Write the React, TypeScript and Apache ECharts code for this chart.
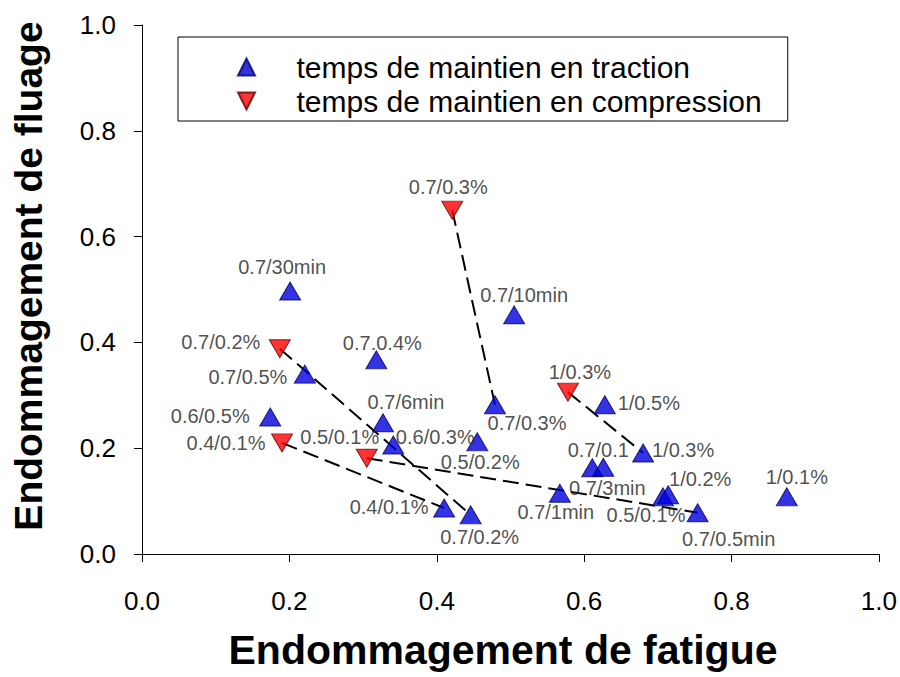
import React, { useEffect, useRef } from "react";
import * as echarts from "echarts";

// Blue: temps de maintien en traction
const tractionX = [0.201, 0.318, 0.221, 0.174, 0.327, 0.341, 0.455, 0.410, 0.446, 0.505, 0.479, 0.628, 0.680, 0.611, 0.626, 0.567, 0.707, 0.714, 0.754, 0.875];
const tractionY = [0.497, 0.367, 0.340, 0.259, 0.248, 0.206, 0.212, 0.087, 0.074, 0.452, 0.282, 0.282, 0.191, 0.163, 0.164, 0.115, 0.108, 0.112, 0.078, 0.108];
const tractionLabels = ["0.7/30min", "0.7.0.4%", "0.7/0.5%", "0.6/0.5%", "0.7/6min", "0.6/0.3%", "0.5/0.2%", "0.4/0.1%", "0.7/0.2%", "0.7/10min", "0.7/0.3%", "1/0.5%", "1/0.3%", "0.7/0.1", "0.7/3min", "0.7/1min", "0.5/0.1%", "1/0.2%", "0.7/0.5min", "1/0.1%"];

// Red: temps de maintien en compression
const compressionX = [0.421, 0.187, 0.190, 0.305, 0.578];
const compressionY = [0.650, 0.388, 0.210, 0.181, 0.306];
const compressionLabels = ["0.7/0.3%", "0.7/0.2%", "0.4/0.1%", "0.5/0.1%", "1/0.3%"];

// dashed links: [compression index, traction index]
const links = [[0, 10], [1, 8], [2, 7], [3, 18], [4, 12]];

const xTicks = ["0.0", "0.2", "0.4", "0.6", "0.8", "1.0"];
const xTitle = "Endommagement de fatigue";
const yTitle = "Endommagement de fluage";
const seriesNames = ["temps de maintien en traction", "temps de maintien en compression"];

// label placement (offset of label centre from marker), styling only
const tractionLabelOffsets: Record<string, number[]> = {
  "0.7/30min": [-8, -24], "0.7.0.4%": [6, -17], "0.7/0.5%": [-57, 3], "0.6/0.5%": [-60, -1],
  "0.7/6min": [23, -21], "0.6/0.3%": [42, -8], "0.5/0.2%": [3, 20], "0.4/0.1%": [-55, -1],
  "0.7/0.2%": [9, 22], "0.7/10min": [10, -20], "0.7/0.3%": [32, 18], "1/0.5%": [44, -2],
  "1/0.3%": [40, -3], "0.7/0.1": [6, -18], "0.7/3min": [4, 21], "0.7/1min": [-4, 19],
  "0.5/0.1%": [-17, 18], "1/0.2%": [32, -16], "0.7/0.5min": [31, 26], "1/0.1%": [10, -20],
};
const compressionLabelOffsets: Record<string, number[]> = {
  "0.7/0.3%": [-4, -23], "0.7/0.2%": [-59, -7], "0.4/0.1%": [-56, 0], "0.5/0.1%": [-27, -21], "1/0.3%": [12, -20],
};

const FONT = "'Liberation Sans', Arial, sans-serif";
const UP = "path://M5,0 L10,10 L0,10 Z";
const DOWN = "path://M0,0 L10,0 L5,10 Z";

export default function App() {
  const ref = useRef<HTMLDivElement>(null);
  useEffect(() => {
    if (!ref.current) return;
    const chart = echarts.init(ref.current, null, { renderer: "svg" });
    const labelStyle = { fontSize: 20, color: "#222", fontFamily: FONT };
    const tractionData = tractionX.map((x, i) => ({
      value: [x, tractionY[i]],
      label: { show: true, position: "inside", formatter: tractionLabels[i], offset: tractionLabelOffsets[tractionLabels[i]], ...labelStyle },
    }));
    const compressionData = compressionX.map((x, i) => ({
      value: [x, compressionY[i]],
      label: { show: true, position: "inside", formatter: compressionLabels[i], offset: compressionLabelOffsets[compressionLabels[i]], ...labelStyle },
    }));
    const linkSeries = links.map(([c, t]) => ({
      type: "line",
      data: [[compressionX[c], compressionY[c]], [tractionX[t], tractionY[t]]],
      symbol: "none",
      silent: true,
      lineStyle: { color: "#000", width: 2, type: [16, 7] },
      z: 1,
    }));
    chart.setOption({
      animation: false,
      backgroundColor: "#fff",
      textStyle: { fontFamily: FONT },
      grid: { left: 142, right: 21, top: 25, bottom: 123 },
      graphic: [
        {
          type: "text",
          x: 503,
          y: 650,
          style: { text: xTitle, font: `bold 41px ${FONT}`, fill: "#000", align: "center", verticalAlign: "middle" },
        },
        {
          type: "text",
          x: 28,
          y: 276,
          rotation: Math.PI / 2,
          style: { text: yTitle, font: `bold 39px ${FONT}`, fill: "#000", align: "center", verticalAlign: "middle" },
        },
      ],
      legend: {
        orient: "vertical",
        left: 178,
        top: 37,
        borderColor: "#000",
        borderWidth: 1,
        padding: [15, 26, 5, 59],
        itemGap: 4,
        itemWidth: 20,
        itemHeight: 17,
        textStyle: { fontSize: 30, color: "#000", fontFamily: FONT, padding: [0, 0, 0, 35] },
        data: [
          { name: seriesNames[0], icon: UP },
          { name: seriesNames[1], icon: DOWN },
        ],
      },
      xAxis: {
        type: "value",
        min: 0,
        max: 1,
        interval: 0.2,
        axisLine: { lineStyle: { color: "#000", width: 1 } },
        axisTick: { length: 8, lineStyle: { color: "#000" } },
        axisLabel: { fontSize: 26, color: "#000", margin: 34, formatter: (v: number) => xTicks[Math.round(v / 0.2)] },
        splitLine: { show: false },
      },
      yAxis: {
        type: "value",
        min: 0,
        max: 1,
        interval: 0.2,
        axisLine: { show: true, lineStyle: { color: "#000", width: 1 } },
        axisTick: { show: true, length: 8, lineStyle: { color: "#000" } },
        axisLabel: { fontSize: 26, color: "#000", margin: 26, formatter: (v: number) => v.toFixed(1) },
        splitLine: { show: false },
      },
      series: [
        ...linkSeries,
        {
          name: seriesNames[0],
          type: "scatter",
          symbol: UP,
          symbolSize: [21, 18],
          itemStyle: { color: "#0000DD", borderColor: "#000060", borderWidth: 1 },
          data: tractionData,
          z: 3,
        },
        {
          name: seriesNames[1],
          type: "scatter",
          symbol: DOWN,
          symbolSize: [21, 18],
          itemStyle: { color: "#FF0000", borderColor: "#600000", borderWidth: 1 },
          data: compressionData,
          z: 3,
        },
      ],
    });
    return () => chart.dispose();
  }, []);
  return <div ref={ref} style={{ position: "absolute", left: 0, top: 0, width: 900, height: 677 }} />;
}
